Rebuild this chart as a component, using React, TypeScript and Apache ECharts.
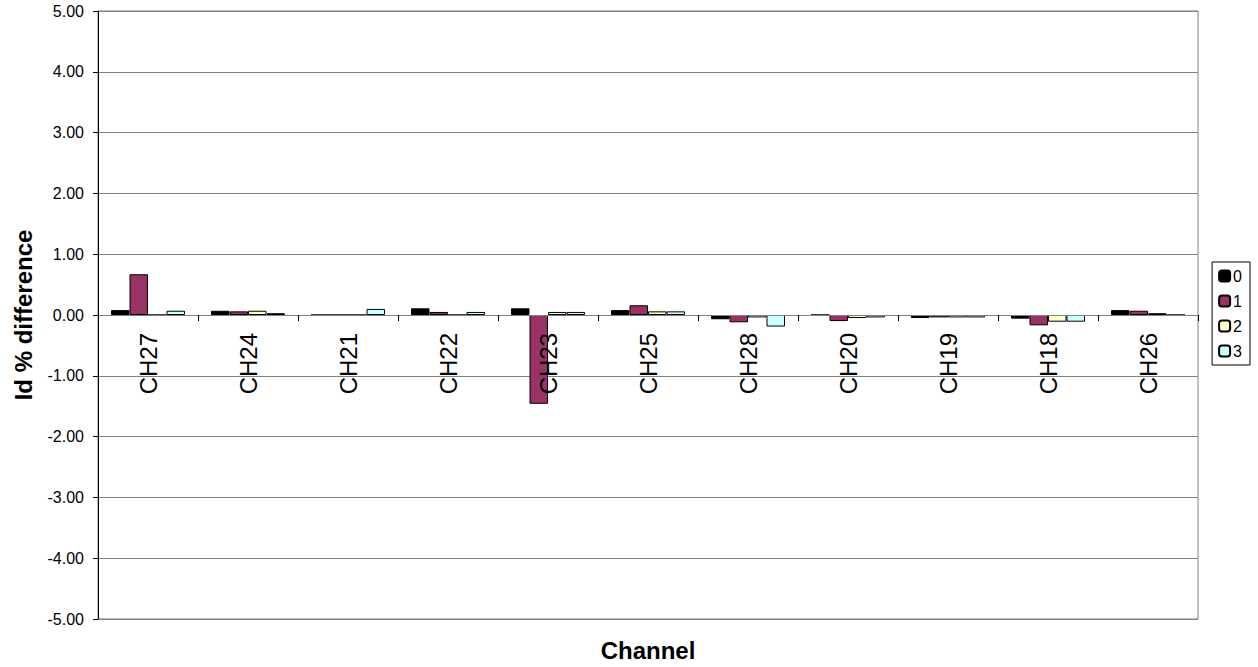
import React, { useEffect, useRef } from "react";
import * as echarts from "echarts";

const categories = ["CH27", "CH24", "CH21", "CH22", "CH23", "CH25", "CH28", "CH20", "CH19", "CH18", "CH26"];
const series0 = [0.08, 0.07, 0, 0.11, 0.11, 0.08, -0.07, 0, -0.05, -0.06, 0.08];
const series1 = [0.67, 0.06, 0, 0.05, -1.46, 0.16, -0.12, -0.10, -0.04, -0.17, 0.07];
const series2 = [0, 0.07, 0, 0, 0.05, 0.06, -0.04, -0.05, -0.04, -0.11, 0.03];
const series3 = [0.07, 0.03, 0.10, 0.05, 0.05, 0.06, -0.19, -0.04, -0.04, -0.11, 0];
const seriesNames = ["0", "1", "2", "3"];
const seriesColors = ["#000000", "#993366", "#FFFFCC", "#CCFFFF"];

const FONT = "Liberation Sans";

export default function App() {
  const ref = useRef<HTMLDivElement>(null);
  useEffect(() => {
    document.body.style.margin = "0";
    if (!ref.current) return;
    const chart = echarts.init(ref.current, null, { renderer: "svg" });
    const data = [series0, series1, series2, series3];
    const barSeries = data.map((d, i) => ({
      name: seriesNames[i],
      type: "bar",
      data: d,
      barGap: "0%",
      barCategoryGap: "26%",
      itemStyle: { color: seriesColors[i], borderColor: "#000", borderWidth: 1 },
    }));
    const labelSeries = {
      name: "labels",
      type: "custom",
      z: 20,
      silent: true,
      data: categories.map((_, i) => [i, 0]),
      renderItem: (params: any, api: any) => {
        const idx = api.value(0);
        const pt = api.coord([idx, 0]);
        return {
          type: "text",
          x: pt[0],
          y: pt[1] + 18,
          rotation: Math.PI / 2,
          style: {
            text: categories[idx],
            fontSize: 24,
            fontFamily: FONT,
            fill: "#000",
            align: "right",
            verticalAlign: "middle",
          },
        };
      },
    };
    chart.setOption({
      animation: false,
      backgroundColor: "#ffffff",
      textStyle: { fontFamily: FONT },
      tooltip: { show: false },
      grid: {
        left: 98,
        right: 60,
        top: 11,
        bottom: 48,
        show: true,
        borderColor: "#808080",
        borderWidth: 1,
        containLabel: false,
        outerBoundsMode: "none",
      },
      legend: {
        orient: "vertical",
        right: 8,
        top: 262,
        itemWidth: 11,
        itemHeight: 11,
        itemGap: 9,
        padding: [6, 8, 6, 6],
        borderColor: "#000000",
        borderWidth: 1,
        textStyle: { fontSize: 16, color: "#000", fontFamily: FONT, padding: [0, 0, 0, -2] },
        data: seriesNames,
      },
      xAxis: {
        type: "category",
        data: categories,
        z: 10,
        offset: -304,
        axisLine: { onZero: false, lineStyle: { color: "#808080", width: 1 } },
        axisTick: { show: true, length: 6, lineStyle: { color: "#000" } },
        axisLabel: { show: false },
        splitLine: { show: false },
      },
      yAxis: {
        type: "value",
        min: -5,
        max: 5,
        interval: 1,
        name: "Id % difference",
        nameLocation: "middle",
        nameGap: 63,
        nameTextStyle: { fontSize: 24, fontWeight: "bold", color: "#000", fontFamily: FONT },
        axisLine: { show: true, lineStyle: { color: "#000", width: 1 } },
        axisTick: { show: true, length: 5, lineStyle: { color: "#000" } },
        axisLabel: {
          fontSize: 16,
          color: "#000",
          margin: 14,
          fontFamily: FONT,
          formatter: (v: number) => v.toFixed(2),
        },
        splitLine: { show: true, lineStyle: { color: "#808080", width: 1 } },
      },
      graphic: [
        {
          type: "text",
          x: 648,
          y: 650,
          style: {
            text: "Channel",
            fontSize: 24,
            fontWeight: "bold",
            fontFamily: FONT,
            fill: "#000",
            textAlign: "center",
            textVerticalAlign: "middle",
          },
        },
      ],
      series: [...barSeries, labelSeries],
    });
    return () => chart.dispose();
  }, []);
  return <div ref={ref} style={{ width: 1258, height: 667 }} />;
}
